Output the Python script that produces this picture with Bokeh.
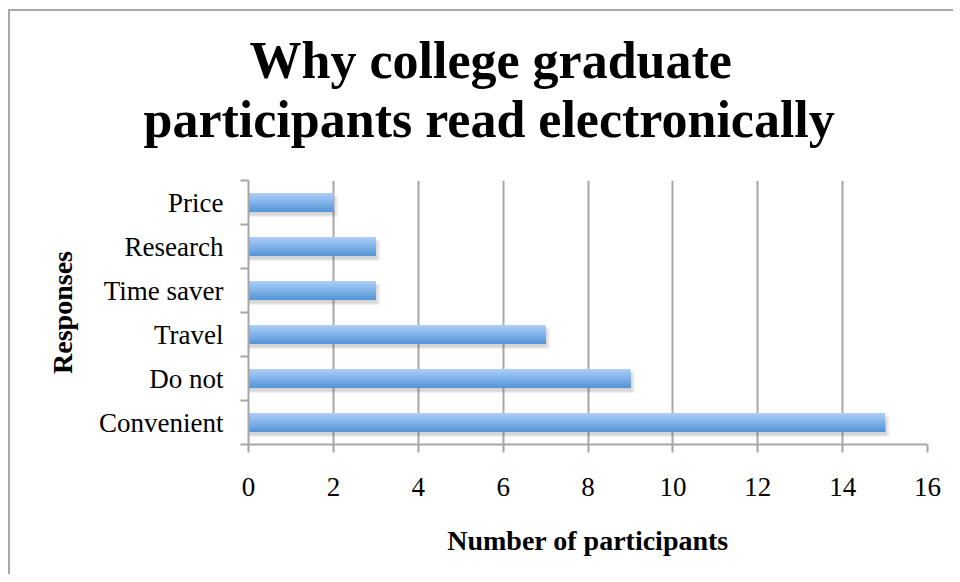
from bokeh.plotting import figure
from bokeh.models import (Range1d, LinearAxis, FixedTicker, Title, ColumnDataSource)
from bokeh.transform import dodge
from bokeh.embed import file_html
from bokeh.resources import INLINE

# ---- data ----
categories = ["Convenient", "Do not", "Travel", "Time saver", "Research", "Price"]
participants = [15, 9, 7, 3, 3, 2]
x_ticks = [0, 2, 4, 6, 8, 10, 12, 14, 16]
title_lines = ["Why college graduate", "participants read electronically"]
x_label = "Number of participants"
y_label = "Responses"

FONT = "Liberation Serif"
GRAY = "#a6a6a6"

ncat = len(categories)
centers = [i + 0.5 for i in range(ncat)]
bounds = list(range(ncat + 1))

p = figure(width=945, height=565, output_backend="svg", toolbar_location=None,
           x_range=Range1d(0, 16), y_range=Range1d(0, ncat),
           y_axis_location=None, x_axis_location="below",
           min_border_left=238, min_border_right=28, min_border_top=169, min_border_bottom=132)
p.styles = {"margin-left": "8px", "margin-top": "9px",
            "border-top": "2px solid #a8a8a8", "border-left": "2px solid #a8a8a8",
            "border-right": "none", "border-bottom": "none"}
p.outline_line_color = None
p.background_fill_color = "white"
p.border_fill_color = "white"

# x axis (the default one, below)
xa = p.below[0]
xa.ticker = FixedTicker(ticks=x_ticks)
xa.axis_line_color = GRAY
xa.axis_line_width = 2
xa.major_tick_line_color = GRAY
xa.major_tick_line_width = 2
xa.major_tick_out = 8
xa.major_tick_in = 0
xa.minor_tick_line_color = None
xa.major_label_text_font = FONT
xa.major_label_text_font_size = "27px"
xa.major_label_text_color = "black"
xa.major_label_standoff = 25
xa.axis_label = x_label
xa.axis_label_text_font = FONT
xa.axis_label_text_font_size = "28px"
xa.axis_label_text_font_style = "bold"
xa.axis_label_text_color = "black"
xa.axis_label_standoff = 26

p.xgrid.ticker = FixedTicker(ticks=x_ticks)
p.xgrid.grid_line_color = GRAY
p.xgrid.grid_line_width = 2
p.ygrid.visible = False

# invisible spacer between frame and title (one hidden tick gives it height)
sp = LinearAxis(ticker=FixedTicker(ticks=x_ticks[:1]))
sp.axis_line_color = None
sp.major_tick_line_color = None
sp.minor_tick_line_color = None
sp.major_tick_out = 33
sp.major_tick_in = 0
sp.minor_tick_out = 0
sp.major_label_text_color = None
sp.major_label_text_font_size = "1px"
sp.major_label_standoff = 0
p.add_layout(sp, "above")

# title lines (nearest to frame first)
p.add_layout(Title(text=title_lines[1], align="left", offset=-105, standoff=0,
                   text_font=FONT, text_font_size="52px", text_font_style="bold",
                   text_color="black"), "above")
p.add_layout(Title(text=title_lines[0], align="left", offset=1, standoff=0,
                   text_font=FONT, text_font_size="52px", text_font_style="bold",
                   text_color="black"), "above")

# y tick-mark axis at category boundaries
ta = LinearAxis(ticker=FixedTicker(ticks=bounds))
ta.axis_line_color = GRAY
ta.axis_line_width = 2
ta.major_tick_line_color = GRAY
ta.major_tick_line_width = 2
ta.major_tick_out = 8
ta.major_tick_in = 0
ta.minor_tick_line_color = None
ta.major_label_text_font_size = "1px"
ta.major_label_text_color = None
ta.major_label_standoff = 0
p.add_layout(ta, "left")

# category label axis
ca = LinearAxis(ticker=FixedTicker(ticks=centers),
                major_label_overrides={c: name for c, name in zip(centers, categories)})
ca.axis_line_color = None
ca.major_tick_line_color = None
ca.minor_tick_line_color = None
ca.major_label_text_font = FONT
ca.major_label_text_font_size = "27px"
ca.major_label_text_color = "black"
ca.major_label_standoff = 11
ca.axis_label = y_label
ca.axis_label_text_font = FONT
ca.axis_label_text_font_size = "28px"
ca.axis_label_text_font_style = "bold"
ca.axis_label_text_color = "black"
ca.axis_label_standoff = 18
p.add_layout(ca, "left")

# bars: soft shadow, then simulated vertical gradient
src = ColumnDataSource(dict(y=centers, val=participants))
bar_h = 0.43
for k in range(4):
    p.hbar(y=dodge("y", -0.09), left=0,
           right=dodge("val", 0.02 + 0.03 * k), height=bar_h - 0.04 + 0.03 * k,
           source=src, fill_color="#606060", fill_alpha=0.07, line_color=None)

top_c = (170, 206, 248)
bot_c = (86, 149, 216)
n = 20
for i in range(n):
    t = i / (n - 1)
    col = "#%02x%02x%02x" % tuple(int(round(a + (b - a) * t)) for a, b in zip(top_c, bot_c))
    h = bar_h * (n - i) / n
    off = -bar_h / 2 + h / 2
    p.hbar(y=dodge("y", off), left=0, right="val", height=h,
           source=src, fill_color=col, line_color=None)

open("out.html", "w").write(file_html(p, INLINE))
